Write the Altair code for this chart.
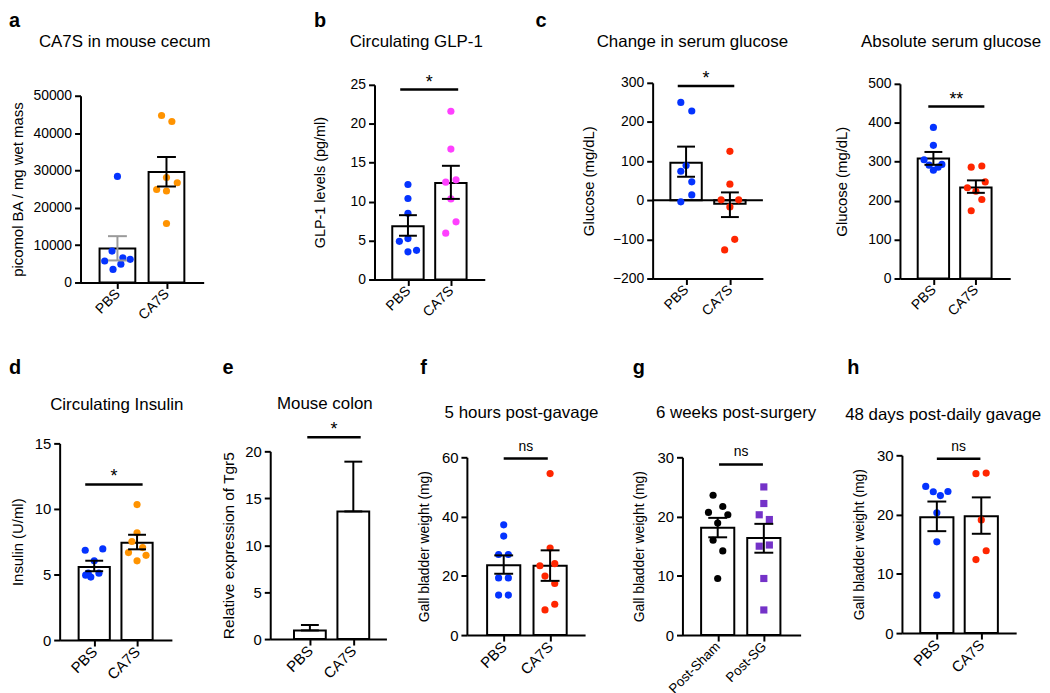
import altair as alt
import pandas as pd

FONT = "Liberation Sans"
BLUE = "#0433FF"
ORANGE = "#FF9300"
MAGENTA = "#FF40FF"
RED = "#FF2600"
BLACK = "#000000"
PURPLE = "#7432C8"
GRAY = "#9A9A9A"

# ---------------- data ----------------
# a  CA7S in mouse cecum
a_groups = ["PBS", "CA7S"]
a_pbs = [28400, 8400, 6600, 6200, 5750, 4900, 3500]
a_pbs_jit = [0.0, -0.11, 0.11, 0.26, -0.26, 0.07, -0.09]
a_ca7s = [44700, 43100, 28100, 26700, 24900, 24500, 15800]
a_ca7s_jit = [-0.10, 0.11, 0.0, 0.22, -0.20, 0.0, 0.0]
a_mean = [9100, 29600]
a_low = [5900, 25700]
a_high = [12400, 33600]

# b  Circulating GLP-1
b_groups = ["PBS", "CA7S"]
b_pbs = [12.2, 10.4, 8.5, 4.9, 5.25, 3.55, 3.75]
b_pbs_jit = [0.0, 0.0, 0.0, -0.2, 0.0, 0.0, 0.2]
b_ca7s = [21.6, 16.75, 12.5, 12.8, 10.35, 7.4, 5.95]
b_ca7s_jit = [0.0, 0.0, -0.12, 0.12, 0.0, 0.12, -0.12]
b_mean = [6.85, 12.4]
b_low = [5.62, 10.35]
b_high = [8.26, 14.6]
b_sig_y = 24.4
b_sig_span = [-0.18, 1.17]

# c  Change in serum glucose
c1_groups = ["PBS", "CA7S"]
c1_pbs = [250, 228, 88.5, 74, 47, 13.5, -4]
c1_pbs_jit = [-0.12, 0.13, 0.0, -0.12, 0.13, 0.13, -0.12]
c1_ca7s = [125, 41, 1, 1, -17, -100, -127]
c1_ca7s_jit = [0.0, 0.0, -0.2, 0.2, 0.0, 0.11, -0.12]
c1_mean = [96, -9]
c1_low = [60, -43]
c1_high = [137, 20]
c1_sig_y = 292
c1_sig_span = [-0.19, 1.10]

# c  Absolute serum glucose
c2_groups = ["PBS", "CA7S"]
c2_pbs = [388, 342, 305, 291, 278, 286, 293]
c2_pbs_jit = [0.0, 0.0, -0.22, -0.1, 0.0, 0.11, 0.2]
c2_ca7s = [286, 289, 248, 233, 224, 203, 174]
c2_ca7s_jit = [-0.11, 0.14, 0.22, -0.2, 0.0, 0.14, -0.11]
c2_mean = [308, 234]
c2_low = [292, 220]
c2_high = [325, 252]
c2_sig_y = 442
c2_sig_span = [-0.12, 1.20]

# d  Circulating Insulin
d_groups = ["PBS", "CA7S"]
d_pbs = [6.85, 6.95, 6.05, 5.1, 4.8, 5.1, 4.95]
d_pbs_jit = [-0.21, 0.2, 0.0, -0.14, -0.08, 0.11, -0.2]
d_ca7s = [10.33, 8.18, 7.52, 7.05, 6.67, 6.46, 6.04]
d_ca7s_jit = [0.0, 0.0, -0.12, 0.13, -0.2, 0.21, 0.0]
d_mean = [5.58, 7.42]
d_low = [5.25, 6.92]
d_high = [6.05, 8.03]
d_sig_y = 11.87
d_sig_span = [-0.21, 1.13]

# e  Mouse colon
e_groups = ["PBS", "CA7S"]
e_mean = [0.92, 13.6]
e_low = [0.92, 13.6]
e_high = [1.5, 18.9]
e_sig_y = 21.5
e_sig_span = [-0.06, 1.17]

# f  5 hours post-gavage
f_groups = ["PBS", "CA7S"]
f_pbs = [37.2, 33.4, 27.2, 27.2, 19.3, 19.3, 13.5, 13.5]
f_pbs_jit = [0.0, 0.0, -0.11, 0.1, -0.11, 0.1, -0.11, 0.1]
f_ca7s = [54.5, 29.4, 23.4, 24.1, 19.9, 17.4, 10.4, 8.5]
f_ca7s_jit = [0.0, 0.0, -0.22, 0.1, -0.11, 0.1, 0.1, -0.11]
f_mean = [23.6, 23.4]
f_low = [20.7, 18.3]
f_high = [26.9, 28.6]
f_sig_y = 59.6
f_sig_span = [0.0, 0.95]

# g  6 weeks post-surgery
g_groups = ["Post-Sham", "Post-SG"]
g_sham = [23.6, 20.7, 21.7, 20.3, 18.9, 16.0, 14.2, 9.55]
g_sham_jit = [-0.1, -0.2, 0.11, 0.22, 0.0, -0.1, 0.11, 0.0]
g_sg = [25.0, 22.2, 20.3, 19.5, 15.0, 15.2, 9.55, 4.24]
g_sg_jit = [0.0, 0.0, -0.1, 0.12, -0.1, 0.12, 0.0, 0.0]
g_mean = [18.1, 16.37]
g_low = [16.5, 13.9]
g_high = [19.78, 18.77]
g_sig_y = 28.8
g_sig_span = [0.03, 0.98]

# h  48 days post-daily gavage
h_groups = ["PBS", "CA7S"]
h_pbs = [24.75, 23.85, 23.2, 23.9, 20.3, 15.4, 6.4]
h_pbs_jit = [-0.25, -0.08, 0.08, 0.25, 0.0, 0.0, 0.0]
h_ca7s = [26.9, 27.0, 19.1, 13.9, 12.4]
h_ca7s_jit = [-0.12, 0.11, 0.0, 0.11, -0.12]
h_mean = [19.55, 19.7]
h_low = [17.2, 16.76]
h_high = [22.2, 22.9]
h_sig_y = 29.4
h_sig_span = [0.0, 0.98]

# ---------------- layout ----------------
ROW1 = (60, 279)
ROW2 = (410, 635)
ROW_GAP = 36
TITLE_EXTRA = 17.5    # measured shift of 17px titles
LETTER_EXTRA = 22     # measured shift of 20px panel letters
PT_SIZE = 52

RES = dict(color="independent", shape="independent", stroke="independent", fill="independent")


def ticks(lo, hi, step):
    out, v = [], lo
    while v <= hi + 1e-9:
        out.append(v)
        v += step
    return out


def make_panel(p, row):
    T, B = row
    W = p["R"] - p["L"]
    H = B - T
    s = p["s"]
    xdom = [(p["L"] - p["c0"]) / s, (p["R"] - p["c0"]) / s]
    yr = [p["ybot"] - T, p["ytop"] - T]
    groups = p["groups"]
    xscale = alt.Scale(domain=xdom, nice=False, zero=False)
    yscale = alt.Scale(domain=p["ydomain"], range=yr, nice=False, zero=False)
    common = dict(domainColor="black", domainWidth=2, tickColor="black", tickWidth=2,
                  tickSize=6, labelColor="black", labelFont=FONT,
                  grid=False, labelOverlap=False)
    xaxis = alt.Axis(values=[0, 1],
                     labelExpr="datum.value < 0.5 ? '%s' : '%s'" % (groups[0], groups[1]),
                     title=None, labelAngle=-45, labelAlign="right",
                     labelBaseline="middle", labelPadding=3,
                     labelFontSize=p.get("xlfs", p["lfs"]),
                     offset=p["ybot"] - B, **common)
    yaxis = alt.Axis(values=p["yticks"], format="d", title=p["ytitle"],
                     titleX=-p["ytx"], titleY=(yr[0] + yr[1]) / 2, titleAngle=270,
                     titleAlign="center", titleBaseline="middle", titleFont=FONT,
                     titleFontSize=p["ytfs"], titleFontWeight="normal",
                     titleColor="black", labelPadding=3, labelFontSize=p["lfs"], **common)

    def X(f):
        return alt.X(f, scale=xscale, axis=xaxis)

    def Y(f):
        return alt.Y(f, scale=yscale, axis=yaxis)

    layers = []
    bar_df = pd.DataFrame({"g": [0, 1], "m": p["mean"], "grp": groups})
    layers.append(
        alt.Chart(bar_df).mark_bar(size=2 * p["hw"], fill="white", stroke="black",
                                   strokeWidth=2, opacity=1)
        .encode(x=X("g:Q"), y=Y("m:Q"), y2=alt.Y2Datum(0))
    )
    if p.get("zero"):
        layers.append(
            alt.Chart(pd.DataFrame({"z": [0]})).mark_rule(color="black", strokeWidth=2)
            .encode(y=Y("z:Q"))
        )
    if p.get("pts"):
        gs, js, vs, ns = [], [], [], []
        for gi, (vals, jit) in enumerate(p["pts"]):
            for v, j in zip(vals, jit):
                gs.append(gi)
                js.append(j)
                vs.append(v)
                ns.append(groups[gi])
        pts_df = pd.DataFrame({"g": gs, "j": js, "v": vs, "grp": ns})
        layers.append(
            alt.Chart(pts_df).transform_calculate(xp="datum.g + datum.j")
            .mark_point(filled=True, size=PT_SIZE, opacity=1, strokeWidth=0)
            .encode(
                x=X("xp:Q"), y=Y("v:Q"),
                color=alt.Color("grp:N", scale=alt.Scale(domain=groups, range=p["colors"]), legend=None),
                shape=alt.Shape("grp:N", scale=alt.Scale(domain=groups, range=p.get("shapes", ["circle", "circle"])), legend=None),
            )
        )
    err_df = pd.DataFrame({"g": [0, 1], "lo": p["low"], "hi": p["high"], "grp": groups})
    ecols = p.get("ecolors", [BLACK, BLACK])
    layers.append(
        alt.Chart(err_df).mark_rule(strokeWidth=2)
        .encode(x=X("g:Q"), y=Y("lo:Q"), y2="hi:Q",
                stroke=alt.Stroke("grp:N", scale=alt.Scale(domain=groups, range=ecols), legend=None))
    )
    layers.append(
        alt.Chart(err_df).transform_fold(["lo", "hi"], as_=["k", "ev"])
        .mark_tick(orient="horizontal", size=p["cap"], thickness=2, opacity=1)
        .encode(x=X("g:Q"), y=Y("ev:Q"),
                fill=alt.Fill("grp:N", scale=alt.Scale(domain=groups, range=ecols), legend=None))
    )
    if p.get("sig"):
        sy, span, txt, fs, dy = p["sig"]
        sig_df = pd.DataFrame({"x0": [span[0]], "x1": [span[1]], "y": [sy], "t": [txt]})
        layers.append(
            alt.Chart(sig_df).mark_rule(color="black", strokeWidth=2.5)
            .encode(x=X("x0:Q"), x2="x1:Q", y=Y("y:Q"))
        )
        layers.append(
            alt.Chart(sig_df).transform_calculate(xm="(datum.x0 + datum.x1) / 2")
            .mark_text(font=FONT, fontSize=fs, baseline="alphabetic", dy=dy, color="black")
            .encode(x=X("xm:Q"), y=Y("y:Q"), text="t:N")
        )
    return alt.layer(*layers).properties(
        width=W, height=H,
        title=alt.TitleParams(p["title"], anchor="middle", frame="group", dx=p["tdx"],
                              offset=T - p["tbase"] - TITLE_EXTRA, fontSize=17, font=FONT,
                              fontWeight="normal", color="black", baseline="alphabetic"),
    ).resolve_scale(**RES)


def spacer(w, row, letter=None, base=None):
    T, B = row
    ch = alt.Chart(pd.DataFrame({"k": [0]})).mark_point(opacity=0, size=1).encode(
        x=alt.value(0), y=alt.value(0))
    if letter:
        return ch.properties(width=w, height=B - T, title=alt.TitleParams(
            letter, anchor="start", frame="group", offset=T - base - LETTER_EXTRA, fontSize=20,
            fontWeight="bold", font=FONT, color="black", baseline="alphabetic"))
    return ch.properties(width=w, height=B - T)


pa = dict(L=80, R=204, c0=115, s=53.7, hw=18, cap=19, ybot=283, ytop=95,
          ydomain=[0, 50000], yticks=ticks(0, 50000, 10000), ytitle="picomol BA / mg wet mass",
          ytfs=15, ytx=63, lfs=14, title="CA7S in mouse cecum", tdx=-17.5, tbase=45,
          groups=a_groups, colors=[BLUE, ORANGE], ecolors=[GRAY, BLACK],
          pts=[(a_pbs, a_pbs_jit), (a_ca7s, a_ca7s_jit)], mean=a_mean, low=a_low, high=a_high)
pb = dict(L=376, R=487, c0=407.5, s=47.5, hw=15.8, cap=18, ybot=280, ytop=84,
          ydomain=[0, 25], yticks=ticks(0, 25, 5), ytitle="GLP-1 levels (pg/ml)",
          ytfs=14.5, ytx=54.5, lfs=14, title="Circulating GLP-1", tdx=-13.5, tbase=45,
          groups=b_groups, colors=[BLUE, MAGENTA],
          pts=[(b_pbs, b_pbs_jit), (b_ca7s, b_ca7s_jit)], mean=b_mean, low=b_low, high=b_high,
          sig=(b_sig_y, b_sig_span, "*", 18, -2))
pc1 = dict(L=656, R=767, c0=687.5, s=48.5, hw=15.8, cap=18, ybot=279, ytop=82,
           ydomain=[-200, 300], yticks=ticks(-200, 300, 100), ytitle="Glucose (mg/dL)",
           ytfs=15, ytx=64.5, lfs=14, title="Change in serum glucose", tdx=-15.5, tbase=45,
           groups=c1_groups, colors=[BLUE, RED], zero=True,
           pts=[(c1_pbs, c1_pbs_jit), (c1_ca7s, c1_ca7s_jit)], mean=c1_mean, low=c1_low, high=c1_high,
           sig=(c1_sig_y, c1_sig_span, "*", 18, -2))
pc2 = dict(L=905, R=1016, c0=936.5, s=47, hw=15.8, cap=18, ybot=279, ytop=83,
           ydomain=[0, 500], yticks=ticks(0, 500, 100), ytitle="Glucose (mg/dL)",
           ytfs=15, ytx=59, lfs=14, title="Absolute serum glucose", tdx=-4, tbase=45,
           groups=c2_groups, colors=[BLUE, RED],
           pts=[(c2_pbs, c2_pbs_jit), (c2_ca7s, c2_ca7s_jit)], mean=c2_mean, low=c2_low, high=c2_high,
           sig=(c2_sig_y, c2_sig_span, "**", 18, -1))
pd_ = dict(L=59, R=172, c0=91.7, s=47.3, hw=15.7, cap=18, ybot=642, ytop=444,
           ydomain=[0, 15], yticks=ticks(0, 15, 5), ytitle="Insulin (U/ml)",
           ytfs=15, ytx=42, lfs=15, title="Circulating Insulin", tdx=1, tbase=410,
           groups=d_groups, colors=[BLUE, ORANGE],
           pts=[(d_pbs, d_pbs_jit), (d_ca7s, d_ca7s_jit)], mean=d_mean, low=d_low, high=d_high,
           sig=(d_sig_y, d_sig_span, "*", 18, -2))
pe = dict(L=271, R=388, c0=309.2, s=47.8, hw=16, cap=18, ybot=641, ytop=452,
          ydomain=[0, 20], yticks=ticks(0, 20, 5), ytitle="Relative expression of Tgr5",
          ytfs=15.5, ytx=42, lfs=15, title="Mouse colon", tdx=-3.5, tbase=409,
          groups=e_groups, mean=e_mean, low=e_low, high=e_high,
          sig=(e_sig_y, e_sig_span, "*", 18, -2))
pf = dict(L=469, R=588, c0=504, s=51, hw=16.7, cap=19, ybot=637, ytop=458,
          ydomain=[0, 60], yticks=ticks(0, 60, 20), ytitle="Gall bladder weight (mg)",
          ytfs=14, ytx=43, lfs=15, title="5 hours post-gavage", tdx=-4.5, tbase=418,
          groups=f_groups, colors=[BLUE, RED],
          pts=[(f_pbs, f_pbs_jit), (f_ca7s, f_ca7s_jit)], mean=f_mean, low=f_low, high=f_high,
          sig=(f_sig_y, f_sig_span, "ns", 14, -8))
pg = dict(L=686, R=805, c0=719.3, s=50.7, hw=16.7, cap=19, ybot=637, ytop=458,
          ydomain=[0, 30], yticks=ticks(0, 30, 10), ytitle="Gall bladder weight (mg)",
          ytfs=14, ytx=43.5, lfs=15, xlfs=13.5, title="6 weeks post-surgery", tdx=-5.5, tbase=418,
          groups=g_groups, colors=[BLACK, PURPLE], shapes=["circle", "square"],
          pts=[(g_sham, g_sham_jit), (g_sg, g_sg_jit)], mean=g_mean, low=g_low, high=g_high,
          sig=(g_sig_y, g_sig_span, "ns", 14, -8))
ph = dict(L=907, R=1022, c0=940, s=49, hw=16.7, cap=19, ybot=635, ytop=456,
          ydomain=[0, 30], yticks=ticks(0, 30, 10), ytitle="Gall bladder weight (mg)",
          ytfs=14, ytx=42.5, lfs=15, title="48 days post-daily gavage", tdx=-16, tbase=420,
          groups=h_groups, colors=[BLUE, RED],
          pts=[(h_pbs, h_pbs_jit), (h_ca7s, h_ca7s_jit)], mean=h_mean, low=h_low, high=h_high,
          sig=(h_sig_y, h_sig_span, "ns", 14, -8))

row1 = alt.hconcat(
    spacer(72, ROW1, "a", 24), make_panel(pa, ROW1), spacer(111, ROW1),
    spacer(61, ROW1, "b", 24), make_panel(pb, ROW1), spacer(51, ROW1),
    spacer(118, ROW1, "c", 24), make_panel(pc1, ROW1), spacer(138, ROW1),
    make_panel(pc2, ROW1),
    spacing=0, bounds="flush",
).resolve_scale(**RES)
row2 = alt.hconcat(
    spacer(51, ROW2, "d", 373), make_panel(pd_, ROW2), spacer(51, ROW2),
    spacer(48, ROW2, "e", 373), make_panel(pe, ROW2), spacer(34, ROW2),
    spacer(47, ROW2, "f", 373), make_panel(pf, ROW2), spacer(48, ROW2),
    spacer(50, ROW2, "g", 373), make_panel(pg, ROW2), spacer(47, ROW2),
    spacer(55, ROW2, "h", 373), make_panel(ph, ROW2),
    spacing=0, bounds="flush",
).resolve_scale(**RES)

chart = alt.vconcat(row1, row2, spacing=ROW_GAP).resolve_scale(**RES).configure_view(
    stroke=None).properties(padding=0, background="white")

chart.save("out.html", embed_options={"renderer": "svg", "actions": False})
